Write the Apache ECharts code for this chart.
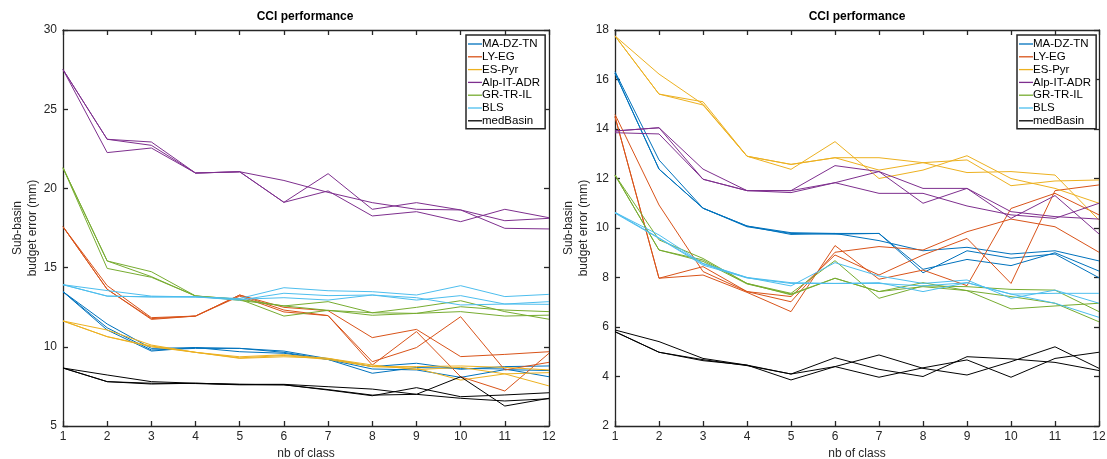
<!DOCTYPE html>
<html>
<head>
<meta charset="utf-8">
<script src="https://cdn.jsdelivr.net/npm/echarts@6/dist/echarts.min.js"></script>
<style>
html,body{margin:0;padding:0;background:#fff;}
#chart{width:1107px;height:459px;}
</style>
</head>
<body>
<div id="chart"></div>
<script>
// ---------- data ----------
const classes = [1,2,3,4,5,6,7,8,9,10,11,12];
const groupNames = ['MA-DZ-TN','LY-EG','ES-Pyr','Alp-IT-ADR','GR-TR-IL','BLS','medBasin'];
const groupColors = ['#0072BD','#D95319','#EDB120','#7E2F8E','#77AC30','#4DBEEE','#000000'];

const leftYTicks = [5,10,15,20,25,30];
const rightYTicks = [2,4,6,8,10,12,14,16,18];

// Left panel (3 runs per group)
const leftMA = [
  [13.48,11.44,9.9,9.95,9.9,9.73,9.25,8.75,8.96,8.58,8.75,8.79],
  [13.48,11.06,9.73,9.95,9.69,9.59,9.2,8.33,8.69,8.64,8.6,8.11],
  [13.48,11.2,9.8,9.9,9.9,9.65,9.2,8.6,8.54,8.07,8.56,8.5]
];
const leftLY = [
  [17.58,13.86,11.84,11.94,13.27,12.49,12.28,10.58,11.1,9.38,9.52,9.69],
  [17.58,13.63,11.73,11.94,13.27,12.32,11.97,9.06,9.95,11.9,8.54,9.02],
  [17.58,13.63,11.78,11.94,13.2,12.2,11.97,8.85,10.96,8.11,7.21,9.59]
];
const leftES = [
  [11.63,11.06,10.11,9.65,9.37,9.5,9.27,8.75,8.75,8.79,8.7,8.54],
  [11.63,10.64,10.0,9.65,9.27,9.37,9.27,8.85,8.56,8.7,8.29,8.37],
  [11.63,10.64,10.05,9.65,9.3,9.45,9.2,8.75,8.65,7.9,8.29,7.53]
];
const leftAlp = [
  [27.5,23.1,22.93,20.97,21.05,20.5,19.75,19.1,18.68,18.64,17.96,18.11],
  [27.5,23.1,22.72,20.97,21.05,19.12,20.93,18.68,19.1,18.64,17.48,17.44],
  [27.5,22.26,22.55,20.97,21.05,19.12,19.84,18.26,18.53,17.9,18.68,18.15]
];
const leftGR = [
  [21.3,15.42,14.74,13.21,13.0,12.58,12.85,12.15,12.49,12.91,12.22,11.74],
  [21.3,15.42,14.43,13.21,13.0,11.94,12.3,11.99,12.11,12.53,12.32,12.22],
  [21.3,14.95,14.39,13.21,12.93,12.58,12.3,12.15,12.11,12.22,11.94,12.0]
];
const leftBLS = [
  [13.92,13.55,13.2,13.15,13.05,13.73,13.54,13.48,13.27,13.86,13.17,13.31],
  [13.92,13.2,13.15,13.15,12.95,13.38,13.23,13.27,12.95,13.23,12.7,12.85],
  [13.92,13.2,13.15,13.15,13.0,13.1,12.95,13.27,13.1,12.64,12.7,12.68]
];
const leftMed = [
  [8.66,8.22,7.8,7.7,7.63,7.63,7.48,7.33,7.0,8.11,6.26,6.75],
  [8.66,7.8,7.65,7.7,7.63,7.6,7.27,6.91,7.42,6.85,6.96,7.1],
  [8.66,7.8,7.7,7.68,7.6,7.6,7.3,6.95,7.0,6.75,6.58,6.72]
];

// Right panel (3 runs per group)
const rightMA = [
  [16.32,12.75,10.8,10.08,9.81,9.78,9.49,9.08,9.22,8.95,9.08,8.67],
  [16.25,12.38,10.8,10.08,9.74,9.78,9.78,8.33,8.73,8.48,9.0,8.26],
  [16.25,12.38,10.8,10.05,9.78,9.75,9.78,8.19,9.08,8.78,8.95,7.99]
];
const rightLY = [
  [14.59,10.93,8.24,7.43,7.02,9.02,9.25,9.11,9.85,10.36,10.05,9.02],
  [14.5,7.97,8.44,7.43,7.23,8.91,8.1,8.91,9.58,7.76,11.51,11.74],
  [14.5,7.97,8.1,7.4,6.62,9.29,7.93,8.3,7.67,10.79,11.4,10.53]
];
const rightES = [
  [17.76,16.22,15.0,12.9,12.37,13.49,12.0,12.34,12.92,12.0,11.6,11.0],
  [17.76,15.41,15.1,12.9,12.57,12.84,12.84,12.64,12.24,12.28,12.14,10.32],
  [17.76,15.41,14.97,12.9,12.57,12.84,12.34,12.64,12.75,11.71,11.9,11.94]
];
const rightAlp = [
  [13.92,14.05,12.38,11.51,11.51,12.52,12.28,11.6,11.6,10.66,10.46,10.36],
  [13.92,14.05,11.97,11.51,11.43,11.83,12.28,11.0,11.6,10.39,11.31,9.76],
  [13.85,13.8,11.97,11.51,11.51,11.83,11.4,11.4,10.89,10.53,10.39,11.0]
];
const rightGR = [
  [12.14,9.52,8.77,7.76,7.36,8.68,7.16,7.66,7.63,7.52,7.49,6.62],
  [12.14,9.11,8.71,7.76,7.3,7.97,7.43,7.79,7.47,6.73,6.85,6.96],
  [12.14,9.11,8.65,7.74,7.33,7.97,7.43,7.63,7.47,7.23,6.96,6.21]
];
const rightBLS = [
  [10.63,9.72,8.57,8.0,7.66,8.6,8.06,7.76,7.9,7.16,7.49,6.96],
  [10.63,9.6,8.55,8.0,7.79,7.76,7.79,7.43,7.79,7.33,6.96,6.39],
  [10.6,9.58,8.5,7.98,7.76,7.76,7.76,7.66,7.79,7.33,7.36,7.36]
];
const rightMed = [
  [5.88,5.41,4.73,4.46,4.1,4.76,4.29,4.0,4.8,4.71,4.57,4.24],
  [5.81,4.98,4.64,4.46,3.86,4.4,4.87,4.33,4.06,4.6,5.2,4.33],
  [5.81,4.98,4.68,4.44,4.1,4.4,3.97,4.35,4.67,3.97,4.73,4.98]
];

const leftGroups = [leftMA,leftLY,leftES,leftAlp,leftGR,leftBLS,leftMed];
const rightGroups = [rightMA,rightLY,rightES,rightAlp,rightGR,rightBLS,rightMed];

// ---------- chart ----------
const FONT = 'Liberation Sans, Arial, Helvetica, sans-serif';
const AX = '#262626';

function makeSeries(groups, axisIdx){
  const out = [];
  groups.forEach((runs, g) => {
    runs.forEach(run => {
      out.push({
        type:'line',
        name: groupNames[g],
        xAxisIndex: axisIdx, yAxisIndex: axisIdx,
        data: classes.map((c,i)=>[c, run[i]]),
        symbol:'none',
        lineStyle:{color: groupColors[g], width:1},
        itemStyle:{color: groupColors[g]},
        emphasis:{disabled:true},
        animation:false,
        clip:true
      });
    });
  });
  return out;
}

function xAxes(gridIndex){
  return [
    {type:'value', gridIndex, position:'bottom', min:1, max:12, interval:1,
     name:'nb of class', nameLocation:'middle', nameGap:21,
     nameTextStyle:{fontFamily:FONT, fontSize:12, color:AX},
     axisLine:{show:true, lineStyle:{color:AX, width:1.3}},
     axisTick:{show:true, inside:true, length:5, lineStyle:{color:AX, width:1.3}},
     axisLabel:{fontFamily:FONT, fontSize:12, color:AX, margin:5},
     splitLine:{show:false}},
    {type:'value', gridIndex, position:'top', min:1, max:12, interval:1,
     axisLine:{show:true, lineStyle:{color:AX, width:1.3}},
     axisTick:{show:true, inside:true, length:5, lineStyle:{color:AX, width:1.3}},
     axisLabel:{show:false}, splitLine:{show:false}}
  ];
}
function yAxes(gridIndex, min, max, interval, gap){
  return [
    {type:'value', gridIndex, position:'left', min, max, interval,
     name:'Sub-basin\nbudget error (mm)', nameLocation:'middle', nameGap:gap, nameRotate:90,
     nameTextStyle:{fontFamily:FONT, fontSize:12, color:AX, lineHeight:15},
     axisLine:{show:true, lineStyle:{color:AX, width:1.3}},
     axisTick:{show:true, inside:true, length:5, lineStyle:{color:AX, width:1.3}},
     axisLabel:{fontFamily:FONT, fontSize:12, color:AX, margin:6},
     splitLine:{show:false}},
    {type:'value', gridIndex, position:'right', min, max, interval,
     axisLine:{show:true, lineStyle:{color:AX, width:1.3}},
     axisTick:{show:true, inside:true, length:5, lineStyle:{color:AX, width:1.3}},
     axisLabel:{show:false}, splitLine:{show:false}}
  ];
}

function legend(left){
  return {
    left, top:35, orient:'vertical',
    data: groupNames.map(n => ({name:n, icon:'rect'})),
    itemWidth:14, itemHeight:1.3, itemGap:0.8,
    padding:[3,5,2,2],
    borderColor:'#262626', borderWidth:1.5, backgroundColor:'#ffffff',
    textStyle:{fontFamily:FONT, fontSize:11.5, color:'#000', padding:[0,0,0,-5]},
    selectedMode:false, z:10
  };
}

const xa = [...xAxes(0), ...xAxes(1)];
const ya = [...yAxes(0,5,30,5,22), ...yAxes(1,2,18,2,24)];
const option = {
  backgroundColor:'#ffffff',
  animation:false,
  grid:[
    {left:63, top:30, width:486, height:396, outerBoundsMode:'none', containLabel:false},
    {left:615, top:30, width:484, height:396, outerBoundsMode:'none', containLabel:false}
  ],
  xAxis: xa,
  yAxis: ya,
  legend:[legend(466), legend(1017)],
  graphic:[
    {type:'text', x:305, y:17, style:{text:'CCI performance', font:'bold 12px '+FONT, fill:'#000', textAlign:'center', textVerticalAlign:'middle'}},
    {type:'text', x:857, y:17, style:{text:'CCI performance', font:'bold 12px '+FONT, fill:'#000', textAlign:'center', textVerticalAlign:'middle'}}
  ],
  series:[...makeSeries(leftGroups,0), ...makeSeries(rightGroups,2)]
};
const chart = echarts.init(document.getElementById('chart'), null, {renderer:'canvas'});
chart.setOption(option);
</script>
</body>
</html>
